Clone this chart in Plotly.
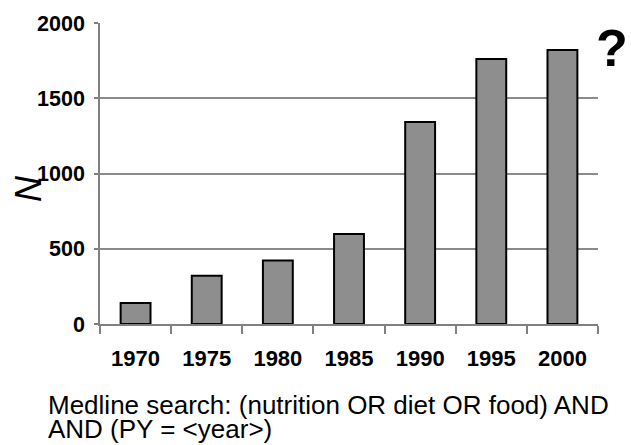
import plotly.graph_objects as go

years = ["1970", "1975", "1980", "1985", "1990", "1995", "2000"]
counts = [140, 320, 422, 598, 1342, 1760, 1820]
y_ticks = [0, 500, 1000, 1500, 2000]
caption_line1 = "Medline search: (nutrition OR diet OR food) AND"
caption_line2 = "AND (PY = <year>)"

FONT = "Liberation Sans, Arial, sans-serif"

fig = go.Figure(go.Bar(
    x=years, y=counts, width=0.42,
    marker=dict(color="#8e8e8e", line=dict(color="#000000", width=2)),
))

fig.update_layout(
    width=631, height=445,
    margin=dict(l=100, r=33, t=23, b=121),
    paper_bgcolor="#ffffff", plot_bgcolor="#ffffff",
    showlegend=False,
    font=dict(family=FONT, color="#000000"),
)

fig.update_xaxes(
    type="category", tickson="boundaries", ticks="outside", ticklen=8,
    tickcolor="#808080", tickwidth=1.5,
    showline=True, linecolor="#808080", linewidth=1.5,
    showgrid=False, zeroline=False,
    tickfont=dict(size=22, family=FONT, weight="bold"),
    ticklabelstandoff=14,
)
fig.update_yaxes(
    range=[0, 2000], tickvals=y_ticks, ticktext=[str(v) for v in y_ticks],
    ticks="outside", ticklen=4, tickcolor="#808080", tickwidth=1.5,
    showline=True, linecolor="#808080", linewidth=1.5,
    showgrid=True, gridcolor="#8a8a8a", gridwidth=1.5, zeroline=False,
    tickfont=dict(size=21.5, family=FONT, weight="bold"),
    ticklabelstandoff=5,
)

fig.add_annotation(
    text="<i>N</i>", xref="paper", yref="paper",
    x=(28 - 100) / 498, y=(324 - 189) / 301,
    xanchor="center", yanchor="middle", textangle=-90, showarrow=False,
    font=dict(size=36, family=FONT),
)
fig.add_annotation(
    text="<b>?</b>", xref="paper", yref="paper",
    x=(612 - 100) / 498, y=(324 - 48) / 301,
    xanchor="center", yanchor="middle", showarrow=False,
    font=dict(size=52, family=FONT),
)
fig.add_annotation(
    text=caption_line1, xref="paper", yref="paper",
    x=(46 - 100) / 498, y=(324 - 405) / 301,
    xanchor="left", yanchor="middle", showarrow=False,
    font=dict(size=26, family=FONT),
)
fig.add_annotation(
    text=caption_line2.replace("<", "&lt;").replace(">", "&gt;"), xref="paper", yref="paper",
    x=(46 - 100) / 498, y=(324 - 429) / 301,
    xanchor="left", yanchor="middle", showarrow=False,
    font=dict(size=26, family=FONT),
)

fig.write_html(
    "out.html",
    config={"displayModeBar": False},
    post_script="document.body.style.margin='0';document.body.style.overflow='hidden';",
)
